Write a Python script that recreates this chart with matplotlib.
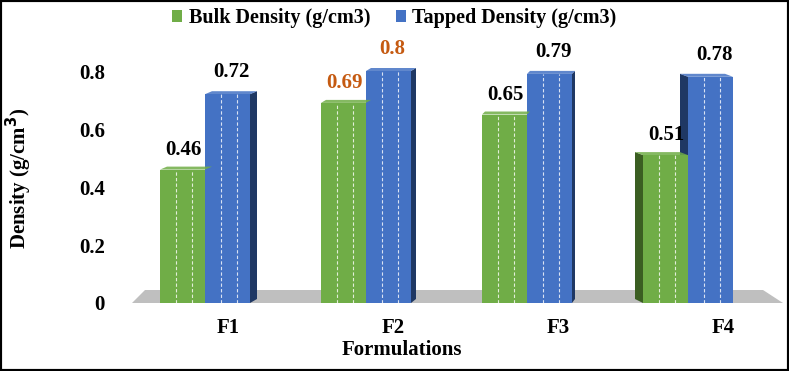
import matplotlib
matplotlib.use("Agg")
import matplotlib.pyplot as plt
from matplotlib.patches import Polygon, Rectangle

formulations = ["F1", "F2", "F3", "F4"]
bulk = [0.46, 0.69, 0.65, 0.51]
tapped = [0.72, 0.80, 0.79, 0.78]
yticks = [0, 0.2, 0.4, 0.6, 0.8]

GREEN, GREEN_DARK = "#70AD47", "#3B5E22"
BLUE, BLUE_DARK = "#4472C4", "#1F3864"
ORANGE = "#C55A11"

plt.rcParams["font.family"] = ["Liberation Serif", "DejaVu Serif"]
plt.rcParams["font.weight"] = "bold"

W, H = 789, 371
fig = plt.figure(figsize=(W / 100, H / 100), dpi=100)
fig.patches.append(Rectangle((0, 0), 1, 1, transform=fig.transFigure,
                             fill=False, lw=3, ec="black"))

# plot area in pixels
x0, x1, y_top, y_bot = 130, 785, 40, 303
ax = fig.add_axes([x0 / W, 1 - y_bot / H, (x1 - x0) / W, (y_bot - y_top) / H])
px_per_cat, cat0 = 161.0, 205
xlim = ((x0 - cat0) / px_per_cat, (x1 - cat0) / px_per_cat)
px_per_unit = 290.0
ylim = (0, (y_bot - y_top) / px_per_unit)
ax.set_xlim(*xlim)
ax.set_ylim(*ylim)
dx = 1 / px_per_cat      # one pixel in x data units
dy = 1 / px_per_unit     # one pixel in y data units

# gray floor
ax.add_patch(Polygon([(xlim[0] + 2 * dx, 0), (xlim[0] + 15 * dx, 13 * dy),
                      (xlim[1] - 22 * dx, 13 * dy), (xlim[1] - 2 * dx, 0)],
                     closed=True, fc="#BFBFBF", ec="none", zorder=1))

bw = 45 / px_per_cat
# side-face offsets (pixels) to fake the perspective
side = [7, 5, 3, -8]


def draw_bar(xc, h, color, dark, s):
    left = xc - bw / 2
    right = xc + bw / 2
    ax.bar(xc, h, width=bw, color=color, edgecolor="none", zorder=3)
    if s > 0:
        face = [(right, 0), (right, h), (right + s * dx, h + 3 * dy), (right + s * dx, 4 * dy)]
    else:
        face = [(left, 0), (left, h), (left + s * dx, h + 3 * dy), (left + s * dx, 4 * dy)]
    ax.add_patch(Polygon(face, closed=True, fc=dark, ec="none", zorder=2.5))
    top = [(left, h), (right, h), (right + s * dx, h + 3 * dy), (left + s * dx, h + 3 * dy)]
    ax.add_patch(Polygon(top, closed=True, fc=color, ec="none", alpha=0.85, zorder=3.2))
    for f in (0.35, 0.7):
        ax.vlines(left + f * bw, 0, h, colors="white", linestyles=(0, (3, 2)),
                  lw=0.8, alpha=0.8, zorder=3.5)


for i, (b, t) in enumerate(zip(bulk, tapped)):
    gx = i - bw / 2
    tx = i + bw / 2
    # for F4 the left face shows, so draw blue first
    if side[i] < 0:
        draw_bar(tx, t, BLUE, BLUE_DARK, side[i])
        draw_bar(gx, b, GREEN, GREEN_DARK, side[i])
    else:
        draw_bar(gx, b, GREEN, GREEN_DARK, side[i])
        draw_bar(tx, t, BLUE, BLUE_DARK, side[i])
    col = ORANGE if i == 1 else "black"
    ax.text(gx + 1 * dx, b + 20 * dy, f"{b:g}", ha="center", va="center",
            fontsize=15, fontweight="bold", color=col, zorder=5)
    ax.text(tx + 4 * dx, t + 22 * dy, f"{t:g}", ha="center", va="center",
            fontsize=15, fontweight="bold", color=col, zorder=5)

for sp in ax.spines.values():
    sp.set_visible(False)
# category labels sit a little right of the bar pair (perspective)
ax.set_xticks([i + (23 + 4 * i) * dx for i in range(len(formulations))])
ax.set_xticklabels(formulations, fontsize=15, fontweight="bold")
ax.tick_params(axis="x", length=0, pad=11)
ax.set_yticks(yticks)
ax.set_yticklabels([f"{v:g}" for v in yticks], fontsize=15, fontweight="bold")
ax.tick_params(axis="y", length=0, pad=18)
fig.text(402 / W, 1 - 350 / H, "Formulations", ha="center", va="center",
         fontsize=15, fontweight="bold")
fig.text(19 / W, 1 - 178 / H, "Density (g/cm$^\\mathbf{3}$)", rotation=90,
         ha="center", va="center", fontsize=15, fontweight="bold")

handles = [Rectangle((0, 0), 1, 1, fc=GREEN), Rectangle((0, 0), 1, 1, fc=BLUE)]
fig.legend(handles, ["Bulk Density (g/cm3)", "Tapped Density (g/cm3)"],
           loc="center", bbox_to_anchor=(0.5, 1 - 18 / H), ncol=2, frameon=False,
           prop={"size": 14.5, "weight": "bold"}, handlelength=0.5, handleheight=0.6,
           handletextpad=0.3, columnspacing=1.3)

fig.savefig("out.png", dpi=100)
